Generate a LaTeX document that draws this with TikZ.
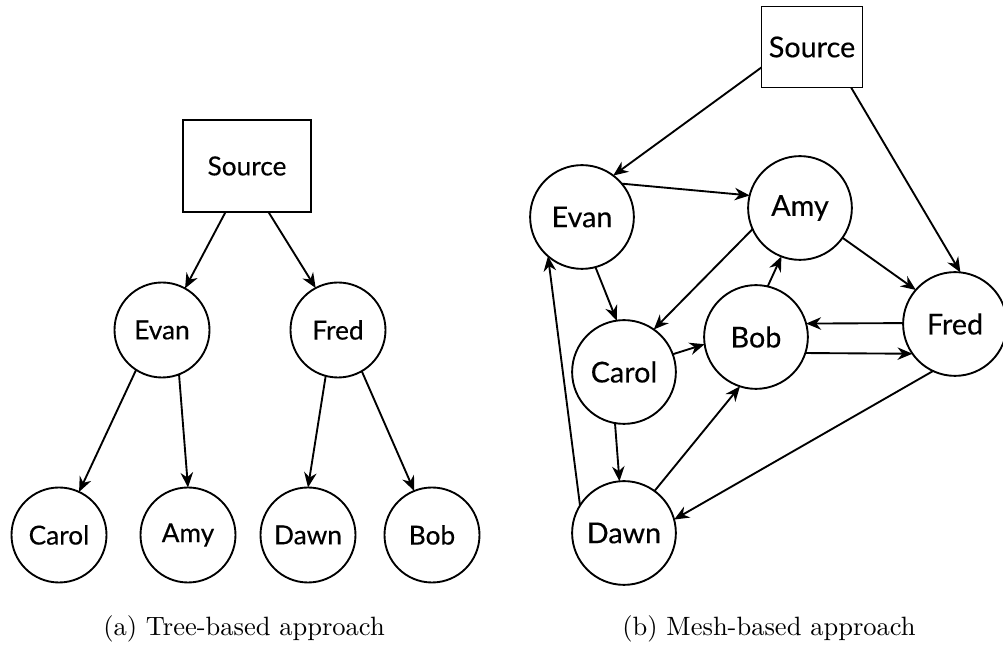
\documentclass[tikz,border=0pt]{standalone}
\usepackage{fontspec}
\newfontfamily\labelfont{Lato}[FakeBold=0.3]
\usetikzlibrary{arrows.meta}
\begin{document}
\begin{tikzpicture}[x=0.4pt,y=-0.4pt,
  line width=0.75pt,
  peer/.style={draw,circle,inner sep=0pt,outer sep=0pt,font=\labelfont\fontsize{10.5}{12}\selectfont},
  peerA/.style={peer,minimum size=38pt},
  peerB/.style={peer,minimum size=41.5pt,font=\labelfont\fontsize{11.5}{13}\selectfont},
  srcbox/.style={draw,rectangle,inner sep=0pt,outer sep=0pt},
  link/.style={-{Stealth[length=6pt,width=5pt]}},
  caption/.style={anchor=base,font=\fontsize{10.6}{12}\selectfont}]
\useasboundingbox (0,0) rectangle (1003,645);

% (a) tree-based overlay
\node[srcbox,minimum width=51.2pt,minimum height=36.8pt,
      font=\labelfont\fontsize{10.5}{12}\selectfont] (sA) at (247,166) {Source};
\node[peerA] (evA) at (162,330) {Evan};
\node[peerA] (frA) at (338,330) {Fred};
\node[peerA] (caA) at (59,535) {Carol};
\node[peerA] (amA) at (188,535) {Amy};
\node[peerA] (daA) at (308,535) {Dawn};
\node[peerA] (boA) at (432,535) {Bob};

\draw[link] (sA.245.5) -- (evA.61.8);
\draw[link] (sA.295.6) -- (frA.118.2);
\draw[link] (evA.237.2) -- (caA.65);
\draw[link] (evA.291.6) -- (amA.90);
\draw[link] (frA.255.4) -- (daA.90);
\draw[link] (frA.300.4) -- (boA.112.9);

\node[caption] (capA) at (244,636) {(a) Tree-based approach};

% (b) mesh-based overlay
\node[srcbox,minimum width=40.4pt,minimum height=32.4pt,
      font=\labelfont\fontsize{11.5}{13}\selectfont] (sB) at (812,47) {Source};
\node[peerB] (evB) at (582,217) {Evan};
\node[peerB] (amB) at (800,208) {Amy};
\node[peerB] (frB) at (955,324) {Fred};
\node[peerB] (boB) at (756,337) {Bob};
\node[peerB] (caB) at (624,372) {Carol};
\node[peerB] (daB) at (624,533) {Dawn};

\draw[link] (sB.202.8) -- (evB.53.1);
\draw[link] (sB.314.3) -- (frB.84.5);
\draw[link] (evB.40.4) -- (amB.166.5);
\draw[link] (amB.325.7) -- (frB.139.9);
\draw[link] (amB.204.6) -- (caB.55.4);
\draw[link] (evB.285.1) -- (caB.98.3);
\draw[link] (boB.77) -- (amB.249);
\draw[link] (frB.179) -- (boB.15.4);
\draw[link] (boB.342.6) -- (frB.215);
\draw[link] (caB.20) -- (boB.188.7);
\draw[link] (caB.260) -- (daB.95.5);
\draw[link] (daB.54.6) -- (boB.252.6);
\draw[link] (frB.245.4) -- (daB.15.8);
\draw[link] (daB.148.7) -- (evB.229.6);

\node[caption] (capB) at (769,636) {(b) Mesh-based approach};
\end{tikzpicture}
\end{document}
